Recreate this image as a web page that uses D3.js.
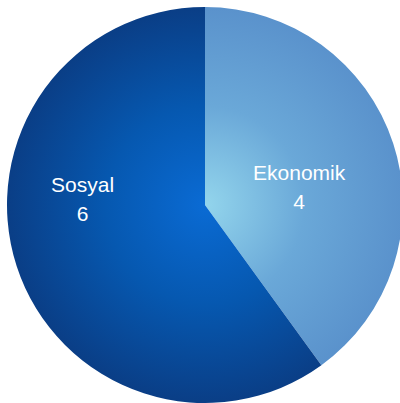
<!DOCTYPE html>
<html><head><meta charset="utf-8">
<script src="https://cdn.jsdelivr.net/npm/d3@7"></script>
<style>html,body{margin:0;padding:0;background:#fff;overflow:hidden}</style>
</head><body>
<script>
const categories = ["Ekonomik", "Sosyal"];
const values = [4, 6];

const W = 400, H = 403;
const cx = 205, cy = 205, R = 198;
const gradStops = [
  ["#93d5ec", "#6aa8d8", "#5a92cc"],
  ["#0a6bd4", "#0658b0", "#0a3e86"]
];
// label layout (fraction of radius along mid-angle, vertical baseline offset)
const labelLayout = [
  {f: 0.50, y: -25},
  {f: 0.65, y: -13}
];

const svg = d3.select("body").append("svg").attr("width", W).attr("height", H);
const defs = svg.append("defs");
gradStops.forEach((s, i) => {
  const g = defs.append("radialGradient").attr("id", "g" + i)
    .attr("gradientUnits", "userSpaceOnUse")
    .attr("cx", 0).attr("cy", 0).attr("r", R);
  g.append("stop").attr("offset", "0%").attr("stop-color", s[0]);
  g.append("stop").attr("offset", "50%").attr("stop-color", s[1]);
  g.append("stop").attr("offset", "100%").attr("stop-color", s[2]);
});

const data = categories.map((c, i) => ({name: c, value: values[i]}));
const pie = d3.pie().value(d => d.value).sort(null);
const arc = d3.arc().innerRadius(0).outerRadius(R);
const arcs = pie(data);

const g = svg.append("g").attr("transform", `translate(${cx},${cy})`);
g.selectAll("path").data(arcs).enter().append("path")
  .attr("d", arc)
  .attr("fill", (d, i) => `url(#g${i})`);

arcs.forEach((d, i) => {
  const a = (d.startAngle + d.endAngle) / 2;
  const p = labelLayout[i];
  const x = Math.sin(a) * R * p.f;
  const t = g.append("text")
    .attr("text-anchor", "middle")
    .attr("fill", "#fff")
    .attr("font-family", "'Liberation Sans', Arial, sans-serif")
    .attr("font-size", 21);
  t.append("tspan").attr("x", x).attr("y", p.y).text(d.data.name);
  t.append("tspan").attr("x", x).attr("dy", 29).text(d.data.value);
});
</script>
</body></html>
